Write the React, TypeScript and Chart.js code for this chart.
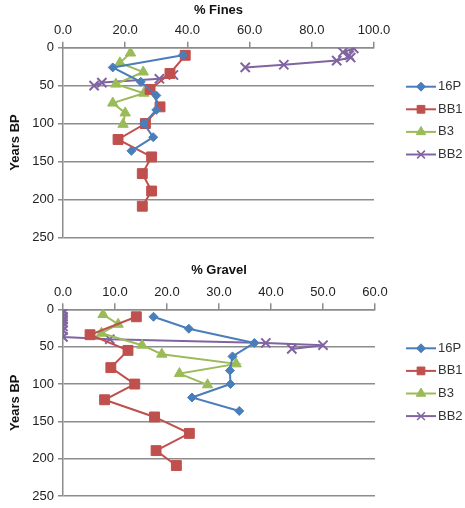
import React, { useEffect, useRef } from 'react';
import { Chart, registerables } from 'chart.js';
import { drawPoint } from 'chart.js/helpers';

Chart.register(...registerables);

const seriesNames = ['16P', 'BB1', 'B3', 'BB2'];
const seriesColors = ['#4A7EBB', '#C0504D', '#9BBB59', '#8064A2'];
const seriesMarkers = ['rectRot', 'rect', 'triangle', 'crossRot'];
const seriesMarkerSizes = [4.5, 7, 6, 6.5];

const years16P = [10, 26, 45, 63, 82, 100, 118, 136];
const fines16P = [38.5, 16, 25, 30, 30, 26, 29, 22];
const gravel16P = [17.4, 24.2, 36.8, 32.6, 32.1, 32.2, 24.8, 33.9];

const yearsBB1 = [10, 34, 55, 78, 100, 121, 144, 166, 189, 209];
const finesBB1 = [39.3, 34.4, 28, 31.2, 26.5, 17.7, 28.5, 25.5, 28.5, 25.5];
const gravelBB1 = [14.1, 5.2, 12.5, 9.2, 13.8, 8, 17.6, 24.3, 17.9, 21.8];

const yearsB3 = [7, 20, 32, 48, 60, 73, 86, 101];
const finesB3 = [21.7, 18.3, 25.8, 17, 26, 16, 20, 19.3];
const gravelB3 = [7.7, 10.6, 7.4, 15.2, 19, 33.3, 22.4, 27.8];

const finesYearsBB2 = [1, 6, 10, 13, 17, 22.5, 26, 31, 36, 41, 46, 50];
const finesBB2 = [93.5, 90, 92, 92.5, 88, 71, 58.6, null, 35.5, 31, 12.5, 10];
const gravelYearsBB2 = [1, 5, 10, 14, 18, 23, 28, 37, 40, 45, 48, 53];
const gravelBB2 = [0, 0, 0, 0, 0, 0, 0, 0, 9, 39, 50, 44];

const FONT = '"Liberation Sans", Arial, sans-serif';
const GRID = '#8c8c8c';

function pts(xs: (number | null)[], ys: number[]) {
  return ys.map((y, i) => ({ x: xs[i], y: xs[i] === null ? null : y }));
}

function makeDatasets(series: { xs: (number | null)[]; ys: number[] }[]) {
  return series.map((s, i) => ({
    label: seriesNames[i],
    data: pts(s.xs, s.ys),
    showLine: true,
    spanGaps: false,
    borderColor: seriesColors[i],
    backgroundColor: seriesColors[i],
    pointBackgroundColor: seriesColors[i],
    pointBorderColor: seriesColors[i],
    pointStyle: seriesMarkers[i],
    pointRadius: seriesMarkerSizes[i],
    pointBorderWidth: i === 3 ? 2 : 1,
    borderWidth: 2,
  }));
}

const legendPlugin = {
  id: 'xlLegend',
  afterDraw(chart: any) {
    const ctx = chart.ctx;
    const top = chart.chartArea.top + 39;
    chart.data.datasets.forEach((ds: any, i: number) => {
      const y = top + i * 22.6;
      ctx.save();
      ctx.strokeStyle = ds.borderColor;
      ctx.fillStyle = ds.borderColor;
      ctx.lineWidth = 2;
      ctx.beginPath();
      ctx.moveTo(406, y);
      ctx.lineTo(436, y);
      ctx.stroke();
      ctx.lineWidth = i === 3 ? 1.5 : 1;
      drawPoint(ctx, { pointStyle: ds.pointStyle, radius: Math.min(ds.pointRadius, 5.5), borderWidth: 1, rotation: 0 } as any, 421, y);
      ctx.fillStyle = '#333';
      ctx.font = '13px ' + FONT;
      ctx.textBaseline = 'middle';
      ctx.textAlign = 'left';
      ctx.fillText(ds.label, 438, y);
      ctx.restore();
    });
  },
};

function makeConfig(
  title: string,
  xMax: number,
  xStep: number,
  datasets: any[],
  xHeight: number,
  pad: { top: number; right: number; bottom: number }
): any {
  return {
    type: 'scatter',
    data: { datasets },
    plugins: [legendPlugin],
    options: {
      animation: false,
      responsive: false,
      layout: { padding: { top: pad.top, right: pad.right, bottom: pad.bottom, left: 0 } },
      plugins: { legend: { display: false }, tooltip: { enabled: false } },
      scales: {
        x: {
          type: 'linear',
          position: 'top',
          min: 0,
          max: xMax,
          ticks: {
            stepSize: xStep,
            callback: (v: any) => Number(v).toFixed(1),
            font: { family: FONT, size: 13 },
            color: '#222',
            padding: 3,
            maxRotation: 0,
          },
          grid: { drawOnChartArea: false, drawTicks: true, tickLength: 6, color: GRID, lineWidth: 1.5 },
          border: { display: true, color: GRID, width: 1.5 },
          title: {
            display: true,
            text: title,
            font: { family: FONT, size: 13, weight: 'bold' },
            color: '#111',
            padding: { top: 3, bottom: 3 },
          },
          afterFit: (s: any) => {
            s.height = xHeight;
          },
        },
        y: {
          type: 'linear',
          reverse: true,
          min: 0,
          max: 250,
          ticks: {
            stepSize: 50,
            font: { family: FONT, size: 13 },
            color: '#222',
            padding: 4,
          },
          grid: { color: GRID, lineWidth: 1.5, drawTicks: true, tickLength: 5 },
          border: { display: true, color: GRID, width: 1.5 },
          title: {
            display: true,
            text: 'Years BP',
            font: { family: FONT, size: 13, weight: 'bold' },
            color: '#111',
            padding: { top: 8, bottom: 4 },
          },
          afterFit: (s: any) => {
            s.width = 63;
          },
        },
      },
    },
  };
}

export default function App() {
  const ref1 = useRef<HTMLCanvasElement>(null);
  const ref2 = useRef<HTMLCanvasElement>(null);

  useEffect(() => {
    const c1 = new Chart(
      ref1.current as HTMLCanvasElement,
      makeConfig(
        '% Fines',
        100,
        20,
        makeDatasets([
          { xs: fines16P, ys: years16P },
          { xs: finesBB1, ys: yearsBB1 },
          { xs: finesB3, ys: yearsB3 },
          { xs: finesBB2, ys: finesYearsBB2 },
        ]),
        47.7,
        { top: 0, right: 91, bottom: 16.7 }
      )
    );
    const c2 = new Chart(
      ref2.current as HTMLCanvasElement,
      makeConfig(
        '% Gravel',
        60,
        10,
        makeDatasets([
          { xs: gravel16P, ys: years16P },
          { xs: gravelBB1, ys: yearsBB1 },
          { xs: gravelB3, ys: yearsB3 },
          { xs: gravelBB2, ys: gravelYearsBB2 },
        ]),
        49.3,
        { top: 6, right: 90, bottom: 8.7 }
      )
    );
    return () => {
      c1.destroy();
      c2.destroy();
    };
  }, []);

  return (
    <div style={{ position: 'fixed', left: 0, top: 0, width: 465, height: 508, background: '#fff' }}>
      <canvas ref={ref1} width={465} height={254} style={{ position: 'absolute', left: 0, top: 0 }} />
      <canvas ref={ref2} width={465} height={254} style={{ position: 'absolute', left: 0, top: 254 }} />
    </div>
  );
}
